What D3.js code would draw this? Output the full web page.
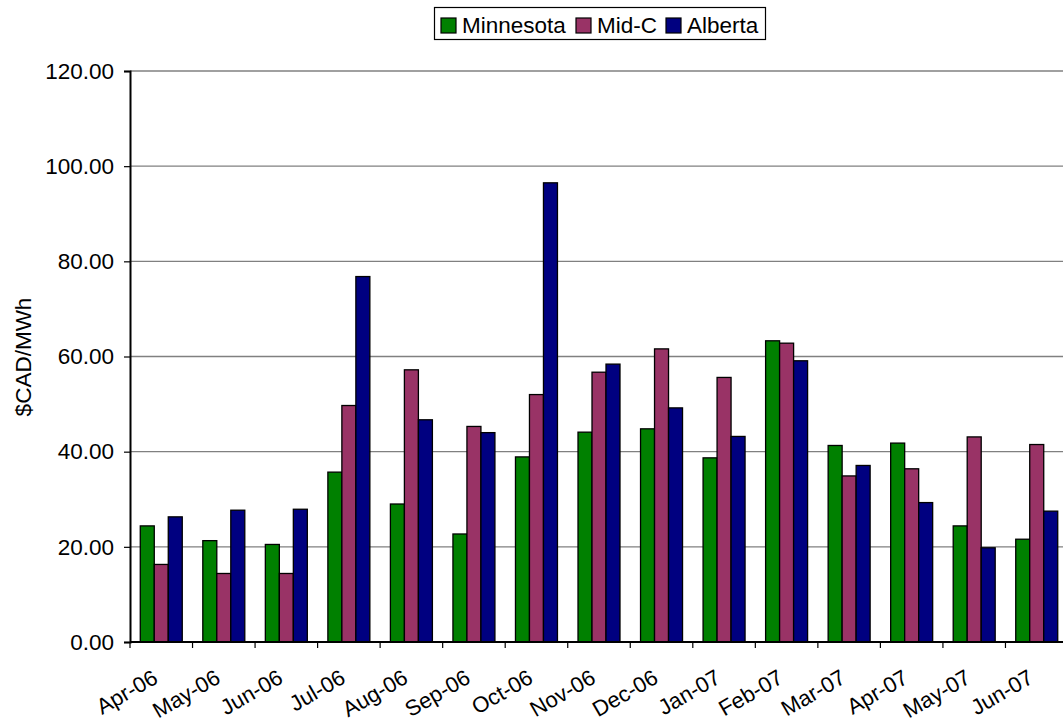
<!DOCTYPE html>
<html>
<head>
<meta charset="utf-8">
<script src="https://cdn.jsdelivr.net/npm/d3@7"></script>
<style>
  html, body { margin: 0; padding: 0; background: #fff; overflow: hidden; }
  svg { display: block; font-family: "Liberation Sans", Arial, sans-serif; }
</style>
</head>
<body>
<svg id="chart" width="1063" height="726"></svg>
<script>
const categories = ["Apr-06","May-06","Jun-06","Jul-06","Aug-06","Sep-06","Oct-06","Nov-06","Dec-06","Jan-07","Feb-07","Mar-07","Apr-07","May-07","Jun-07"];
const seriesNames = ["Minnesota","Mid-C","Alberta"];
const minnesota = [24.4,21.3,20.5,35.7,29.0,22.7,38.9,44.1,44.8,38.7,63.3,41.3,41.8,24.4,21.6];
const midC      = [16.3,14.4,14.4,49.7,57.2,45.3,52.0,56.7,61.6,55.6,62.8,34.9,36.4,43.1,41.5];
const alberta   = [26.3,27.7,27.9,76.8,46.7,44.0,96.5,58.4,49.2,43.2,59.1,37.1,29.3,19.8,27.5];
const yTicks = [0,20,40,60,80,100,120];
const colors = ["#008000","#993366","#000080"];

const seriesValues = [minnesota, midC, alberta];
const svg = d3.select("#chart");
const mLeft = 130, mRight = 1068, mTop = 71, mBottom = 642;
const FS = 22.5;

const x0 = d3.scaleBand().domain(categories).range([mLeft, mRight]).paddingInner(0).paddingOuter(0);
const x1 = d3.scaleBand().domain(seriesNames).range([0, x0.bandwidth()]).paddingInner(0).paddingOuter(0.734);
const y = d3.scaleLinear().domain([0,120]).range([mBottom, mTop]);

// gridlines
svg.append("g").selectAll("line").data(yTicks.filter(d => d > 0)).join("line")
  .attr("x1", mLeft).attr("x2", mRight)
  .attr("y1", d => y(d)).attr("y2", d => y(d))
  .attr("stroke", "#808080").attr("stroke-width", 1.3);

// bars
const groups = svg.append("g").selectAll("g").data(categories).join("g")
  .attr("transform", d => `translate(${x0(d)},0)`);
groups.selectAll("rect").data((c, i) => seriesNames.map((s, j) => ({s, v: seriesValues[j][i], j})))
  .join("rect")
  .attr("x", d => x1(d.s))
  .attr("width", x1.bandwidth())
  .attr("y", d => y(d.v))
  .attr("height", d => y(0) - y(d.v))
  .attr("fill", d => colors[d.j])
  .attr("stroke", "#000").attr("stroke-width", 1.3);

// y axis
const yAxis = d3.axisLeft(y).tickValues(yTicks).tickFormat(d3.format(".2f")).tickSize(6).tickPadding(10);
const gy = svg.append("g").attr("transform", `translate(${mLeft},0)`).call(yAxis);
gy.select(".domain").attr("stroke", "#000").attr("stroke-width", 2);
gy.selectAll(".tick line").attr("stroke", "#000").attr("stroke-width", 1.2);
gy.selectAll("text").attr("font-size", FS).attr("fill", "#000").attr("font-family", "Liberation Sans, Arial, sans-serif");

// x axis
const xTickScale = d3.scaleLinear().domain([0, categories.length]).range([mLeft, mRight]);
const xAxis = d3.axisBottom(x0).tickSize(0).tickPadding(0);
const gx = svg.append("g").attr("transform", `translate(0,${mBottom})`).call(xAxis);
gx.select(".domain").remove();
gx.append("line").attr("x1", mLeft).attr("x2", mRight).attr("y1", 0).attr("y2", 0).attr("stroke", "#000").attr("stroke-width", 2);
gx.selectAll(".bound").data(d3.range(categories.length + 1)).join("line").attr("class","bound")
  .attr("x1", d => xTickScale(d)).attr("x2", d => xTickScale(d))
  .attr("y1", 0).attr("y2", 6).attr("stroke", "#000").attr("stroke-width", 1.2);
gx.selectAll(".tick text")
  .attr("font-size", 22).attr("fill", "#000").attr("font-family", "Liberation Sans, Arial, sans-serif")
  .attr("text-anchor", "end")
  .attr("dy", null).attr("y", 0)
  .attr("transform", "translate(-2,40) rotate(-30)");

// y label
svg.append("text")
  .attr("transform", `translate(31,357) rotate(-90)`)
  .attr("text-anchor", "middle")
  .attr("font-size", FS)
  .text("$CAD/MWh");

// legend
const legend = svg.append("g");
legend.append("rect").attr("x", 434.5).attr("y", 7.5).attr("width", 331).attr("height", 32)
  .attr("fill", "#fff").attr("stroke", "#000").attr("stroke-width", 1.2);
const legX = [441, 576, 666];
seriesNames.forEach((s, i) => {
  legend.append("rect").attr("x", legX[i]).attr("y", 18).attr("width", 15).attr("height", 15)
    .attr("fill", colors[i]).attr("stroke", "#000").attr("stroke-width", 1.2);
  legend.append("text").attr("x", legX[i] + 21).attr("y", 33).attr("font-size", FS).text(s);
});
</script>
</body>
</html>
